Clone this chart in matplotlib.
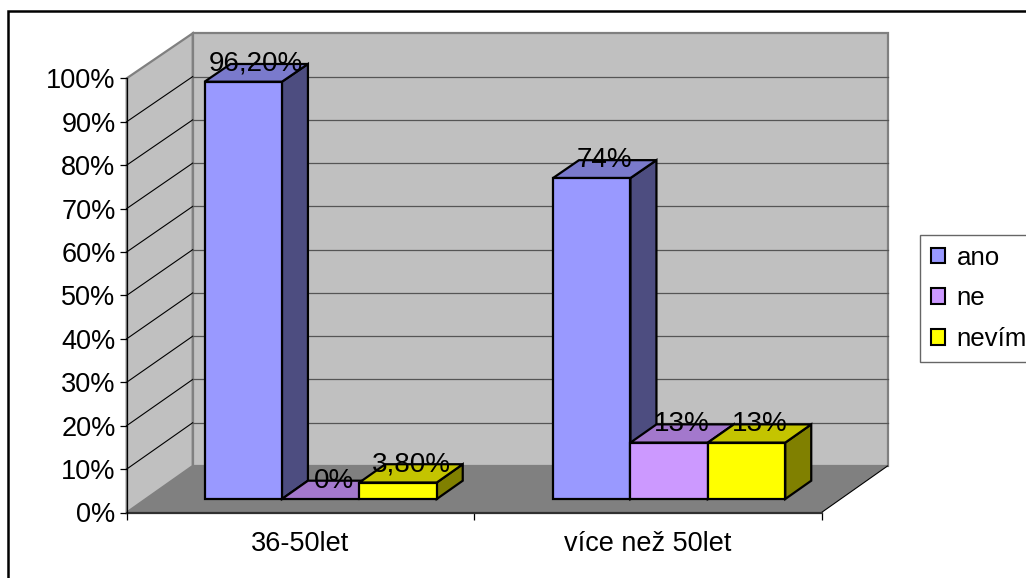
import matplotlib
matplotlib.use("Agg")
import matplotlib.pyplot as plt
from matplotlib.patches import Polygon, Patch, Rectangle

plt.rcParams['font.family'] = ['Liberation Sans', 'DejaVu Sans']

categories = ['36-50let', 'více než 50let']
series_names = ['ano', 'ne', 'nevím']
ano = [96.2, 74]
ne = [0, 13]
nevim = [3.8, 13]
ano_labels = ['96,20%', '74%']
ne_labels = ['0%', '13%']
nevim_labels = ['3,80%', '13%']
y_ticks = list(range(0, 101, 10))

W, H = 1026, 578
FS = 19.5
fig = plt.figure(figsize=(W / 100, H / 100), dpi=100, facecolor='white')
L, R, T, B = 126.7, 821.5, 78.3, 512.5
ax = fig.add_axes([L / W, 1 - B / H, (R - L) / W, (B - T) / H])
ax.set_xlim(0, 2)
ax.set_ylim(0, 100)
ax.patch.set_visible(False)

PX = 2 / (R - L)            # data units per pixel in x
PY = 100 / (B - T)          # data units per pixel in y
DX, DY = 66 * PX, 46.5 * PY  # full floor depth
SHRINK = 0.0035             # slight perspective towards the back wall


def proj(x, y, d=0.0):
    return (x + d * DX, y * (1 - SHRINK * d) + d * DY)


def poly(pts, fc, ec='none', lw=0, z=1):
    ax.add_patch(Polygon(pts, closed=True, facecolor=fc, edgecolor=ec, linewidth=lw,
                         zorder=z, clip_on=False, joinstyle='miter'))


# walls and floor
WALL, FLOOR, EDGE = '#C0C0C0', '#808080', '#808080'
poly([proj(0, 0, 1), proj(2, 0, 1), proj(2, 100, 1), proj(0, 100, 1)], WALL, EDGE, 1.6, 1)
poly([proj(0, 0), proj(0, 0, 1), proj(0, 100, 1), proj(0, 100)], WALL, EDGE, 1.6, 1)
poly([proj(0, 0), proj(2, 0), proj(2, 0, 1), proj(0, 0, 1)], FLOOR, 'none', 0, 2)

# gridlines on the walls
for t in y_ticks[1:-1]:
    a, b, c = proj(0, t), proj(0, t, 1), proj(2, t, 1)
    ax.plot([a[0], b[0]], [a[1], b[1]], color='black', lw=0.8, zorder=3, clip_on=False)
    ax.plot([b[0], c[0]], [b[1], c[1]], color='#555555', lw=0.9, zorder=3, clip_on=False)
a, b = proj(2, 0), proj(2, 0, 1)
ax.plot([a[0], b[0]], [a[1], b[1]], color='black', lw=0.8, zorder=3, clip_on=False)
a, b = proj(0, 0), proj(2, 0)
ax.plot([a[0], b[0]], [a[1], b[1]], color='#303030', lw=1.6, zorder=3, clip_on=False)

# bars
BAR_W = 77.4 * PX
D0, D1 = 0.29, 0.684
GROUP_SHIFT = [1.1 * PX, 2.2 * PX]
colors = [('#9999FF', '#7A7ACC', '#4D4D80'),
          ('#CC99FF', '#A378CC', '#664D80'),
          ('#FFFF00', '#C4C400', '#808000')]
series = [ano, ne, nevim]
labels = [ano_labels, ne_labels, nevim_labels]
offsets = [-1.5, -0.5, 0.5]
for ci in range(len(categories)):
    for si in range(3):
        v = series[si][ci]
        x0 = ci + 0.5 + offsets[si] * BAR_W + GROUP_SHIFT[ci]
        x1 = x0 + BAR_W
        front, top, side = colors[si]
        z = 10 + ci * 10 + si
        kw = dict(ec='black', lw=1.6, z=z)
        if v > 0:
            poly([proj(x1, 0, D0), proj(x1, 0, D1), proj(x1, v, D1), proj(x1, v, D0)], side, **kw)
        poly([proj(x0, v, D0), proj(x1, v, D0), proj(x1, v, D1), proj(x0, v, D1)], top, **kw)
        if v > 0:
            poly([proj(x0, 0, D0), proj(x1, 0, D0), proj(x1, v, D0), proj(x0, v, D0)], front, **kw)
for ci in range(len(categories)):
    for si in range(3):
        v = series[si][ci]
        x0 = ci + 0.5 + offsets[si] * BAR_W + GROUP_SHIFT[ci]
        ax.annotate(labels[si][ci], xy=proj(x0 + BAR_W / 2, v, D0), xytext=(9.4, 13.2),
                    textcoords='offset points', ha='center', va='center',
                    fontsize=20, color='black', zorder=50, annotation_clip=False)

# axes
for s in ['top', 'right', 'bottom']:
    ax.spines[s].set_visible(False)
ax.spines['left'].set_linewidth(0.9)
ax.spines['left'].set_zorder(4)
ax.set_yticks(y_ticks)
ax.set_yticklabels([f'{t}%' for t in y_ticks], fontsize=FS)
ax.set_xticks([0, 1, 2])
ax.set_xticklabels([])
ax.set_xticks([0.5, 1.5], minor=True)
ax.set_xticklabels(categories, minor=True, fontsize=FS)
ax.tick_params(axis='x', which='major', length=5, width=0.9, direction='out')
ax.tick_params(axis='x', which='minor', length=0, pad=13)
ax.tick_params(axis='y', length=5, width=0.9, pad=3)

# legend
handles = [Patch(facecolor=c[0], edgecolor='black', linewidth=1.5) for c in colors]
leg = fig.legend(handles, series_names, loc='upper left',
                 bbox_to_anchor=(920 / W, 1 - 235 / H), bbox_transform=fig.transFigure,
                 fontsize=18.6, frameon=True, fancybox=False, edgecolor='#404040',
                 facecolor='white', borderaxespad=0, borderpad=0.42, labelspacing=0.64,
                 handlelength=0.55, handleheight=0.55, handletextpad=0.45)
leg.get_frame().set_linewidth(1.0)

# chart frame
fig.add_artist(Rectangle((8.3 / W, -0.02), 1.1, 1 - 11 / H + 0.02, transform=fig.transFigure,
                         fill=False, edgecolor='black', linewidth=1.8, zorder=100))

fig.savefig('out.png', dpi=100)
